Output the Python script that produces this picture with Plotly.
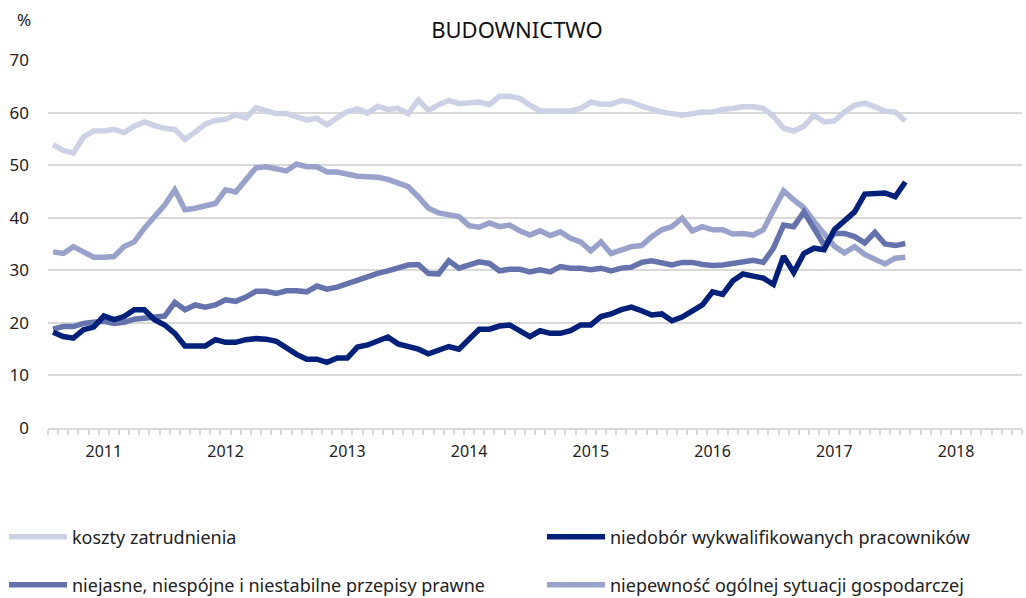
import plotly.graph_objects as go

# Monthly observations Aug 2010 - Aug 2017 (index 0 = 2010-08)
koszty = [53.9, 52.8, 52.3, 55.4, 56.5, 56.5, 56.8, 56.2, 57.4, 58.2,
          57.5, 57.0, 56.8, 54.9, 56.3, 57.8, 58.5, 58.7, 59.6, 59.0,
          60.9, 60.3, 59.8, 59.8, 59.2, 58.6, 58.9, 57.7, 59.0, 60.2,
          60.7, 59.9, 61.2, 60.6, 60.8, 59.8, 62.4, 60.4, 61.5, 62.3,
          61.7, 61.8, 62.0, 61.5, 63.1, 63.1, 62.7, 61.4, 60.3, 60.3,
          60.4, 60.3, 60.8, 62.0, 61.6, 61.6, 62.3, 62.0, 61.2, 60.6,
          60.1, 59.8, 59.5, 59.8, 60.1, 60.1, 60.6, 60.8, 61.1, 61.1,
          60.8, 59.3, 57.0, 56.5, 57.4, 59.5, 58.2, 58.4, 60.1, 61.4,
          61.8, 61.1, 60.3, 60.1, 58.4]

niedobor = [18.2, 17.4, 17.1, 18.7, 19.2, 21.3, 20.6, 21.2, 22.5, 22.5,
            20.6, 19.6, 18.0, 15.6, 15.6, 15.6, 16.8, 16.3, 16.3, 16.8,
            17.0, 16.9, 16.5, 15.2, 14.0, 13.1, 13.1, 12.5, 13.3, 13.3,
            15.4, 15.8, 16.5, 17.3, 16.0, 15.4, 15.0, 14.1, 14.7, 15.5,
            15.0, 16.8, 18.8, 18.8, 19.4, 19.6, 18.5, 17.4, 18.5, 18.0,
            18.0, 18.5, 19.6, 19.6, 21.2, 21.7, 22.5, 23.0, 22.3, 21.5,
            21.7, 20.4, 21.1, 22.3, 23.4, 25.9, 25.4, 28.0, 29.3, 28.9,
            28.5, 27.3, 32.7, 29.6, 33.2, 34.2, 33.9, 37.7, 39.4, 41.1,
            44.5, 44.7, 44.7, 44.0, 46.8]

niejasne = [18.8, 19.3, 19.3, 19.9, 20.1, 20.3, 19.9, 20.1, 20.7, 20.9,
            20.9, 21.3, 23.9, 22.5, 23.4, 23.0, 23.4, 24.4, 24.1, 24.9,
            26.0, 26.0, 25.6, 26.1, 26.1, 25.9, 27.0, 26.4, 26.8, 27.5,
            28.2, 28.8, 29.4, 29.9, 30.4, 31.0, 31.1, 29.4, 29.3, 31.8,
            30.4, 31.0, 31.6, 31.3, 29.9, 30.2, 30.2, 29.7, 30.1, 29.7,
            30.7, 30.4, 30.4, 30.1, 30.4, 29.9, 30.4, 30.6, 31.5, 31.8,
            31.3, 31.0, 31.5, 31.5, 31.1, 30.9, 31.0, 31.3, 31.6, 31.9,
            31.5, 34.2, 38.6, 38.3, 41.1, 38.0, 34.8, 37.0, 37.0, 36.4,
            35.2, 37.2, 35.0, 34.7, 35.1]

niepewnosc = [33.5, 33.2, 34.5, 33.5, 32.5, 32.5, 32.6, 34.5, 35.4, 38.0,
              40.2, 42.4, 45.3, 41.5, 41.8, 42.2, 42.7, 45.3, 44.9, 47.2,
              49.5, 49.7, 49.4, 48.9, 50.2, 49.7, 49.7, 48.7, 48.7, 48.3,
              47.9, 47.8, 47.7, 47.3, 46.6, 45.9, 44.0, 41.8, 40.9, 40.5,
              40.2, 38.5, 38.2, 39.0, 38.3, 38.6, 37.5, 36.7, 37.5, 36.6,
              37.3, 36.1, 35.4, 33.7, 35.4, 33.2, 33.9, 34.5, 34.7, 36.4,
              37.7, 38.3, 39.9, 37.5, 38.3, 37.7, 37.7, 36.9, 37.0, 36.7,
              37.7, 41.3, 45.1, 43.4, 41.9, 39.3, 37.0, 34.6, 33.3, 34.5,
              33.0, 32.2, 31.2, 32.3, 32.5]

# x axis: 96 monthly slots, Aug 2010 - Jul 2018
n_slots = 96
year_labels = ["2011", "2012", "2013", "2014", "2015", "2016", "2017", "2018"]
year_pos = [5 + 12 * k for k in range(len(year_labels))]  # January of each year

series_names = ["koszty zatrudnienia",
                "niedobór wykwalifikowanych pracowników",
                "niejasne, niespójne i niestabilne przepisy prawne",
                "niepewność ogólnej sytuacji gospodarczej"]
series_values = [koszty, niedobor, niejasne, niepewnosc]
series_colors = ["#ccd1e5", "#00207a", "#6573ad", "#98a2cb"]
legend_ids = ["legend", "legend2", "legend3", "legend4"]

FONT = "Noto Sans"
fig = go.Figure()
draw_order = [0, 3, 2, 1]  # navy drawn on top
for idx in draw_order:
    vals = series_values[idx]
    fig.add_trace(go.Scatter(
        x=list(range(len(vals))), y=vals, mode="lines", name=series_names[idx],
        line=dict(color=series_colors[idx], width=5.5), legend=legend_ids[idx],
    ))

W, H = 1026, 598
# legend placement (container pixels): 2 x 2 grid
leg_pos = {"legend": (4, 537), "legend2": (542, 537), "legend3": (4, 585), "legend4": (542, 585)}
leg_layout = {}
for lid, (px, py) in leg_pos.items():
    leg_layout[lid] = dict(x=px / W, xref="container", xanchor="left",
                           y=1 - py / H, yref="container", yanchor="middle",
                           orientation="h", itemwidth=58, bgcolor="rgba(0,0,0,0)",
                           font=dict(family=FONT, size=18, color="#222222"))

fig.update_layout(
    width=W, height=H,
    plot_bgcolor="white", paper_bgcolor="white",
    margin=dict(l=48, r=4, t=60, b=170, autoexpand=False),
    font=dict(family=FONT, size=16, color="#222222"),
    title=dict(text="BUDOWNICTWO", x=517 / W, xref="container", xanchor="center",
               y=1 - 30 / H, yref="container", yanchor="middle",
               font=dict(family=FONT, size=22, color="#111111")),
    showlegend=True,
    annotations=[dict(text="%", xref="paper", yref="paper", x=24 / 974 - 48 / 974, y=1 + 40 / 368,
                      xanchor="center", yanchor="middle", showarrow=False,
                      font=dict(family=FONT, size=17, color="#222222"))],
    **leg_layout,
)
fig.update_xaxes(
    range=[-0.5, n_slots - 0.5], tickmode="array", tickvals=year_pos, ticktext=year_labels,
    ticks="", showgrid=False, zeroline=False, showline=True, linecolor="#d9d9d9", linewidth=2,
    tickfont=dict(size=16, color="#222222"), ticklabelstandoff=8, automargin=False,
    minor=dict(ticks="outside", tick0=-0.5, dtick=1, ticklen=5, tickcolor="#d9d9d9", tickwidth=1.5,
               showgrid=False),
)
fig.update_yaxes(
    range=[0, 70], dtick=10, showgrid=True, gridcolor="#d9d9d9", gridwidth=2,
    zeroline=False, showline=False, ticks="", tickfont=dict(size=17, color="#222222"),
    ticklabelstandoff=18, automargin=False,
)

fig.write_html("out.html", config={"displayModeBar": False},
               post_script="document.body.style.margin='0';document.body.style.overflow='hidden';")
